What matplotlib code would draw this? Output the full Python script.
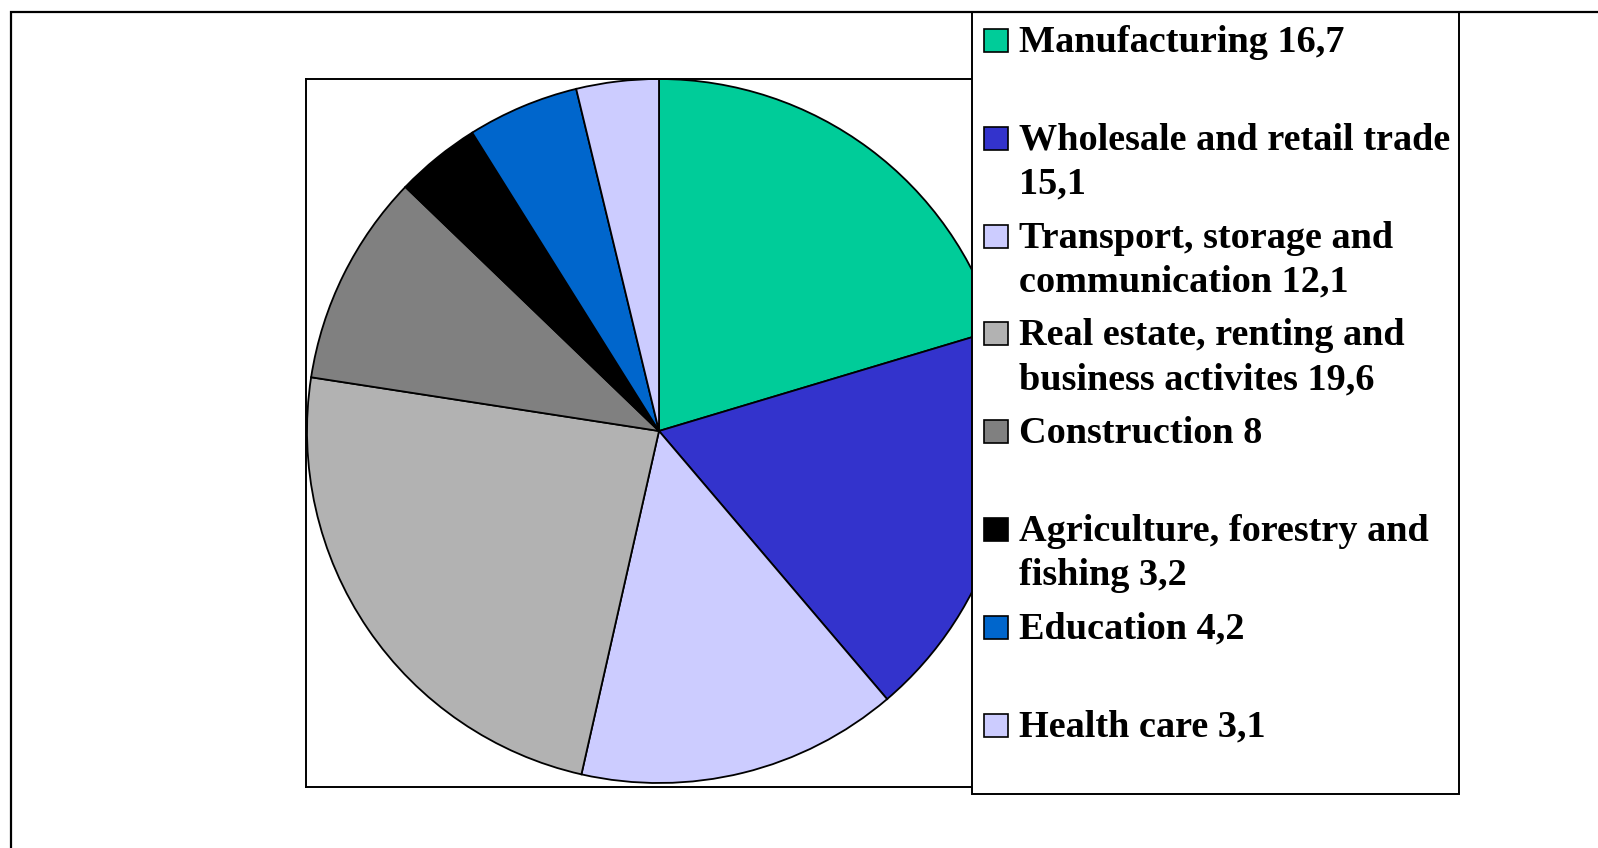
import matplotlib
matplotlib.use("Agg")
import matplotlib.pyplot as plt
from matplotlib.patches import Rectangle

# GDP structure by sector, %
SECTORS = ["Manufacturing", "Wholesale and retail trade\n", "Transport, storage and\ncommunication",
           "Real estate, renting and\nbusiness activites", "Construction",
           "Agriculture, forestry and\nfishing", "Education", "Health care"]
SHARES = [16.7, 15.1, 12.1, 19.6, 8, 3.2, 4.2, 3.1]
COLORS = ["#00CC99", "#3333CC", "#CCCCFF", "#B2B2B2", "#808080", "#000000", "#0066CC", "#CCCCFF"]

W, H = 1598, 848
plt.rcParams["font.family"] = ["Liberation Serif", "DejaVu Serif"]


def label(name, v):
    s = f"{v:g}".replace(".", ",")
    return name + s if name.endswith("\n") else f"{name} {s}"


fig = plt.figure(figsize=(W / 100, H / 100), dpi=100)

# plot area (pixel box 306..1012 x 79..787), pie centre at (659, 431)
cx, cy, r = 659, 431, 352
x0, x1, y0, y1 = 306, 1012, 79, 787
ax = fig.add_axes([x0 / W, 1 - y1 / H, (x1 - x0) / W, (y1 - y0) / H])
ax.pie(SHARES, colors=COLORS, startangle=90, counterclock=False, radius=r,
       wedgeprops=dict(edgecolor="black", linewidth=1.3))
ax.set_xlim(x0 - cx, x1 - cx)
ax.set_ylim(cy - y1, cy - y0)
ax.set_aspect("auto")
ax.set_xticks([]); ax.set_yticks([])
ax.set_frame_on(True)
for sp in ax.spines.values():
    sp.set_visible(True); sp.set_linewidth(1.4); sp.set_color("black")

# overlay in pixel coordinates: outer frame and legend
ov = fig.add_axes([0, 0, 1, 1])
ov.set_xlim(0, W); ov.set_ylim(H, 0); ov.axis("off")
ov.plot([10.5, 10.5, W + 5], [H + 5, 11.5, 11.5], color="black", lw=1.6, solid_joinstyle="miter")

ov.add_patch(Rectangle((972, 12), 487, 782, fc="white", ec="black", lw=1.4))
for i, (name, v, c) in enumerate(zip(SECTORS, SHARES, COLORS)):
    base = 52 + i * 97.8
    ov.add_patch(Rectangle((984, base - 23), 24, 23, fc=c, ec="black", lw=1.2))
    for k, line in enumerate(label(name, v).split("\n")):
        ov.text(1019, base + k * 44, line, fontsize=27.5, fontweight="bold",
                va="baseline", ha="left")

fig.savefig("out.png", dpi=100)
